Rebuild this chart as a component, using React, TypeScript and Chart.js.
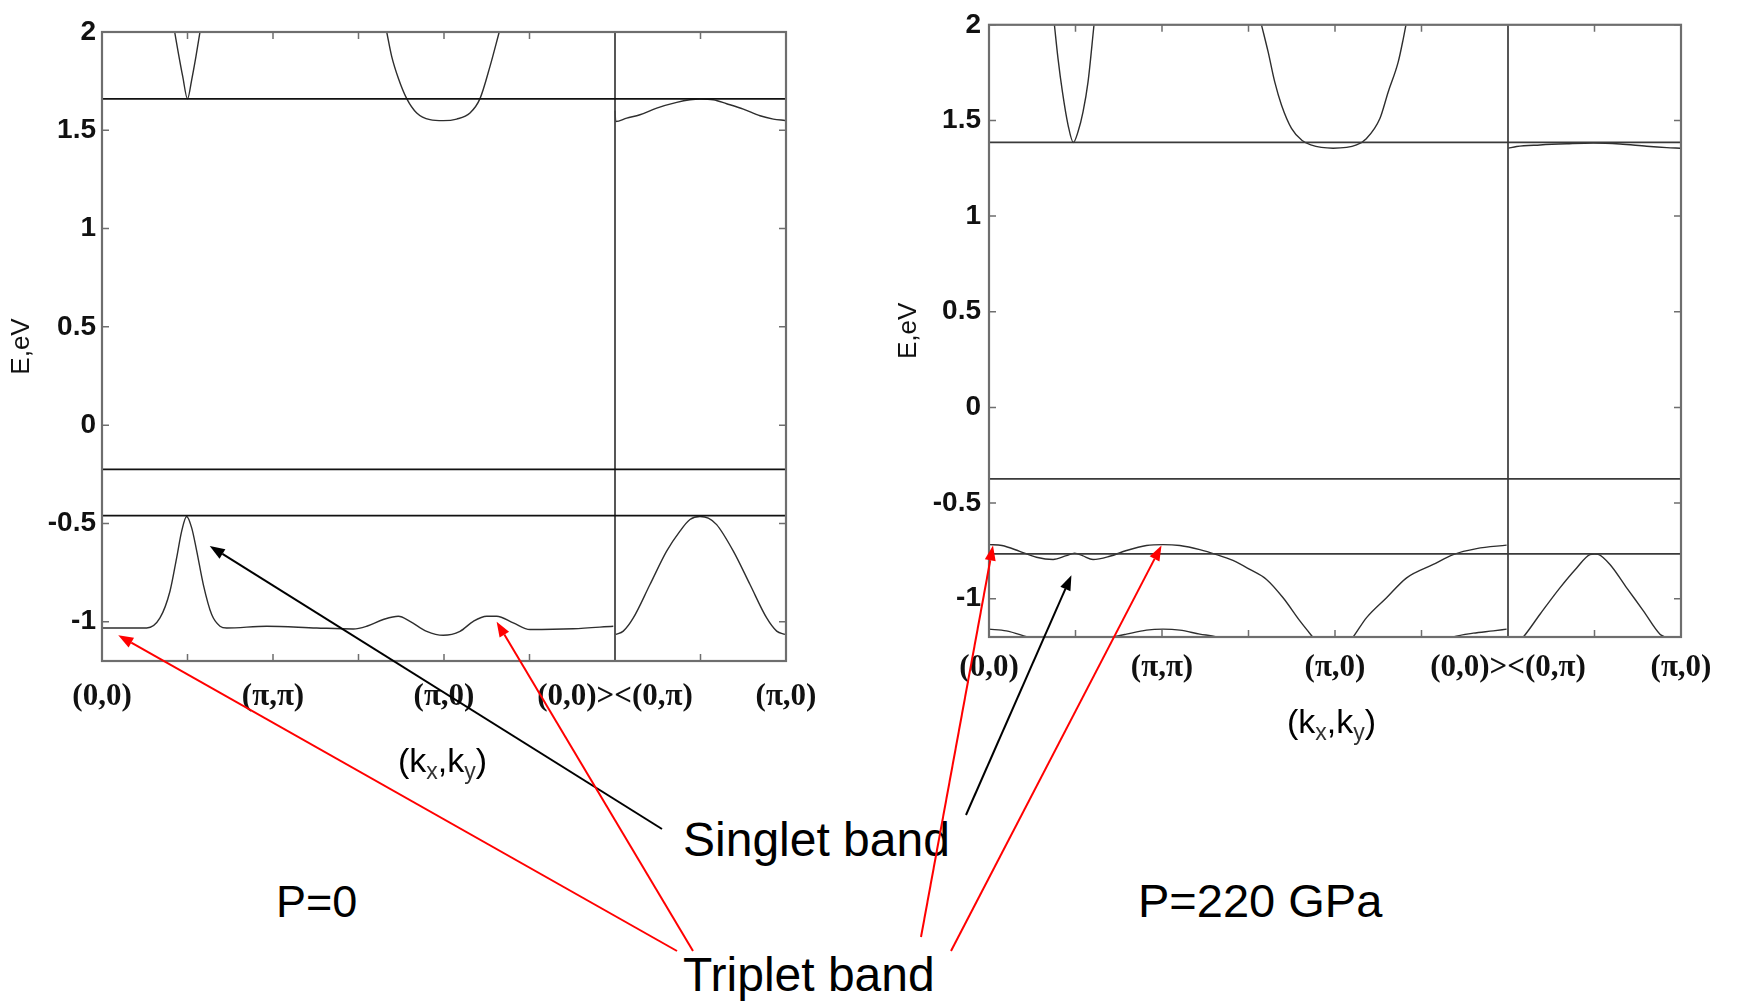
import { useEffect, useRef } from "react";
import { Chart, registerables } from "chart.js";

Chart.register(...registerables);

type Pt = [number, number];

// Path through the Brillouin zone, in equal segments: 0..6 is (0,0)->(π,π)->(π,0)->(0,0), 6..8 is (0,π)->(π,0)
const K_MIN = 0;
const K_MAX = 8;
const K_JUNCTION = 6;
const K_TICK_POS = [0, 2, 4, 6, 8];
const K_TICK_LABELS = ["(0,0)", "(π,π)", "(π,0)", "(0,0)><(0,π)", "(π,0)"];
const K_MINOR_TICKS = [1, 2, 3, 4, 5, 7];

const E_MIN = -1.2;
const E_MAX = 2;
const E_TICKS = [2, 1.5, 1, 0.5, 0, -0.5, -1];

// ---- P = 0 ----
const P0_LEVELS = [1.66, -0.225, -0.46];
const P0_UPPER_A: Pt[] = [
  [0.85, 2.0], [0.893, 1.893], [0.944, 1.774], [1.0, 1.66], [1.049, 1.757], [1.099, 1.876], [1.146, 2.0],
];
const P0_UPPER_B: Pt[] = [
  [3.33, 2.0], [3.388, 1.876], [3.465, 1.766], [3.564, 1.661], [3.681, 1.588], [3.836, 1.554],
  [3.992, 1.549], [4.148, 1.557], [4.304, 1.588], [4.421, 1.661], [4.538, 1.825], [4.646, 2.0],
];
const P0_UPPER_C: Pt[] = [
  [6.0, 1.6], [6.008, 1.545], [6.137, 1.562], [6.292, 1.579], [6.488, 1.613], [6.722, 1.642],
  [6.877, 1.655], [6.994, 1.659], [7.15, 1.655], [7.306, 1.635], [7.501, 1.608], [7.696, 1.574],
  [7.852, 1.557], [7.988, 1.55],
];
const P0_LOWER_A: Pt[] = [
  [0.0, -1.032], [0.523, -1.032], [0.678, -0.981], [0.795, -0.845], [0.873, -0.675], [0.932, -0.539],
  [0.99, -0.465], [1.049, -0.523], [1.108, -0.641], [1.185, -0.811], [1.283, -0.964], [1.38, -1.023],
  [1.458, -1.032], [1.926, -1.023], [2.511, -1.032], [2.94, -1.037], [3.096, -1.023], [3.29, -0.989],
  [3.466, -0.972], [3.602, -0.998], [3.798, -1.049], [3.992, -1.069], [4.187, -1.049], [4.343, -0.998],
  [4.5, -0.972], [4.616, -0.972], [4.81, -1.006], [5.006, -1.04], [5.51, -1.036], [5.98, -1.023],
];
const P0_LOWER_B: Pt[] = [
  [6.008, -1.065], [6.097, -1.048], [6.214, -0.981], [6.409, -0.811], [6.604, -0.641], [6.76, -0.539],
  [6.877, -0.48], [6.994, -0.465], [7.091, -0.473], [7.189, -0.506], [7.384, -0.641], [7.579, -0.811],
  [7.774, -0.981], [7.891, -1.048], [7.988, -1.065],
];

// ---- P = 220 GPa ----
const P220_LEVELS = [1.385, -0.373, -0.766];
const P220_UPPER_A: Pt[] = [
  [0.756, 2.0], [0.798, 1.823], [0.849, 1.649], [0.914, 1.476], [0.975, 1.385], [1.029, 1.441],
  [1.087, 1.545], [1.145, 1.702], [1.214, 2.0],
];
const P220_UPPER_B: Pt[] = [
  [3.15, 2.0], [3.227, 1.858], [3.304, 1.7], [3.382, 1.58], [3.497, 1.459], [3.62, 1.395],
  [3.72, 1.372], [3.979, 1.355], [4.249, 1.372], [4.365, 1.406], [4.519, 1.51], [4.615, 1.649],
  [4.731, 1.806], [4.789, 1.927], [4.82, 2.0],
];
const P220_UPPER_C: Pt[] = [
  [6.003, 1.355], [6.1, 1.364], [6.37, 1.372], [6.678, 1.378], [6.986, 1.382], [7.295, 1.377],
  [7.603, 1.365], [7.835, 1.358], [7.99, 1.355],
];
const P220_LOWER_A: Pt[] = [
  [0.0, -0.717], [0.15, -0.722], [0.355, -0.752], [0.548, -0.783], [0.741, -0.795], [0.895, -0.775],
  [0.99, -0.762], [1.08, -0.775], [1.203, -0.795], [1.396, -0.778], [1.589, -0.748], [1.82, -0.722],
  [2.012, -0.717], [2.206, -0.722], [2.437, -0.743], [2.63, -0.769], [2.82, -0.8], [3.015, -0.847],
  [3.208, -0.899], [3.4, -0.995], [3.594, -1.116], [3.748, -1.203], [3.98, -1.33], [4.21, -1.2],
  [4.365, -1.099], [4.596, -0.995], [4.828, -0.891], [5.136, -0.821], [5.367, -0.769], [5.637, -0.738],
  [5.984, -0.72],
];
const P220_LOWER_B: Pt[] = [
  [0.0, -1.159], [0.2, -1.168], [0.432, -1.198], [0.9, -1.26], [1.434, -1.2], [1.589, -1.185],
  [1.82, -1.164], [2.012, -1.159], [2.206, -1.164], [2.437, -1.185], [2.63, -1.2], [4.0, -1.45],
  [5.367, -1.2], [5.598, -1.18], [5.83, -1.168], [5.984, -1.159],
];
const P220_LOWER_C: Pt[] = [
  [6.0, -1.28], [6.177, -1.2], [6.37, -1.081], [6.6, -0.943], [6.794, -0.839], [6.947, -0.769],
  [7.0, -0.766], [7.043, -0.768], [7.179, -0.821], [7.372, -0.943], [7.565, -1.063], [7.757, -1.185],
  [7.815, -1.2], [8.0, -1.28],
];

// Arrow targets in (k, E) of each panel
const P0_SINGLET_TIP: Pt = [1.26, -0.615];
const P0_TRIPLET_TIPS: Pt[] = [[0.19, -1.069], [4.616, -1.0]];
const P220_SINGLET_TIP: Pt = [0.953, -0.877];
const P220_TRIPLET_TIPS: Pt[] = [[0.046, -0.722], [1.994, -0.722]];

const SANS = '"Liberation Sans", Arial, Helvetica, sans-serif';
const SERIF = '"Liberation Serif", "Times New Roman", Times, serif';

interface PanelSpec {
  left: number;
  width: number;
  height: number;
  padTop: number;
  padRight: number;
  yAxisWidth: number;
  xAxisHeight: number;
  xLabelPad: number;
  yLabelPad: number;
  titlePad: number;
  levels: number[];
  levelColor: string;
  curves: Pt[][];
}

const framePlugin = {
  id: "frame",
  afterDatasetsDraw(chart: any) {
    const { ctx, chartArea: a, scales } = chart;
    ctx.save();
    ctx.strokeStyle = "#6e6e6e";
    ctx.lineWidth = 2.2;
    ctx.strokeRect(a.left, a.top, a.right - a.left, a.bottom - a.top);
    ctx.lineWidth = 1.5;
    ctx.beginPath();
    for (const k of K_MINOR_TICKS) {
      const x = scales.x.getPixelForValue(k);
      ctx.moveTo(x, a.bottom);
      ctx.lineTo(x, a.bottom - 7);
      ctx.moveTo(x, a.top);
      ctx.lineTo(x, a.top + 7);
    }
    for (const e of E_TICKS) {
      const y = scales.y.getPixelForValue(e);
      ctx.moveTo(a.left, y);
      ctx.lineTo(a.left + 7, y);
      ctx.moveTo(a.right, y);
      ctx.lineTo(a.right - 7, y);
    }
    ctx.stroke();
    ctx.restore();
  },
};

function buildConfig(p: PanelSpec): any {
  const curveSets = p.curves.map((c) => ({
    data: c.map(([x, y]) => ({ x, y })),
    borderColor: "#2e2e2e",
    borderWidth: 1.4,
    pointRadius: 0,
    cubicInterpolationMode: "monotone",
    fill: false,
  }));
  const levelSets = p.levels.map((e) => ({
    data: [{ x: K_MIN, y: e }, { x: K_MAX, y: e }],
    borderColor: p.levelColor,
    borderWidth: 1.8,
    pointRadius: 0,
    tension: 0,
    fill: false,
  }));
  const divider = {
    data: [{ x: K_JUNCTION, y: E_MIN }, { x: K_JUNCTION, y: E_MAX }],
    borderColor: "#444",
    borderWidth: 1.8,
    pointRadius: 0,
    tension: 0,
    fill: false,
  };
  return {
    type: "line",
    data: { datasets: [...levelSets, divider, ...curveSets] },
    plugins: [framePlugin],
    options: {
      animation: false,
      responsive: false,
      events: [],
      layout: { padding: { top: p.padTop, right: p.padRight, left: 0, bottom: 0 } },
      plugins: { legend: { display: false }, tooltip: { enabled: false } },
      scales: {
        x: {
          type: "linear",
          min: K_MIN,
          max: K_MAX,
          afterBuildTicks: (s: any) => {
            s.ticks = K_TICK_POS.map((v) => ({ value: v }));
          },
          afterFit: (s: any) => {
            s.height = p.xAxisHeight;
          },
          grid: { display: false, drawTicks: false },
          border: { display: false },
          ticks: {
            autoSkip: false,
            maxRotation: 0,
            minRotation: 0,
            padding: p.xLabelPad,
            color: "#111",
            font: { family: SERIF, size: 31, weight: "bold" },
            callback: (_v: any, i: number) => K_TICK_LABELS[i],
          },
        },
        y: {
          type: "linear",
          min: E_MIN,
          max: E_MAX,
          afterBuildTicks: (s: any) => {
            s.ticks = E_TICKS.map((v) => ({ value: v }));
          },
          afterFit: (s: any) => {
            s.width = p.yAxisWidth;
          },
          grid: { display: false, drawTicks: false },
          border: { display: false },
          ticks: {
            padding: p.yLabelPad,
            color: "#111",
            font: { family: SANS, size: 28, weight: "bold" },
            callback: (v: any) => String(v),
          },
          title: {
            display: true,
            text: "E,eV",
            color: "#111",
            font: { family: SANS, size: 26 },
            padding: { top: p.titlePad, bottom: 0 },
          },
        },
      },
    },
  };
}

const LEFT_PANEL: PanelSpec = {
  left: 0,
  width: 880,
  height: 760,
  padTop: 32,
  padRight: 94,
  yAxisWidth: 102,
  xAxisHeight: 99,
  xLabelPad: 17,
  yLabelPad: 6,
  titlePad: 6,
  levels: P0_LEVELS,
  levelColor: "#111",
  curves: [P0_UPPER_A, P0_UPPER_B, P0_UPPER_C, P0_LOWER_A, P0_LOWER_B],
};

const RIGHT_PANEL: PanelSpec = {
  left: 880,
  width: 858,
  height: 760,
  padTop: 23,
  padRight: 57,
  yAxisWidth: 109,
  xAxisHeight: 123,
  xLabelPad: 12,
  yLabelPad: 8,
  titlePad: 13,
  levels: P220_LEVELS,
  levelColor: "#3a3a3a",
  curves: [P220_UPPER_A, P220_UPPER_B, P220_UPPER_C, P220_LOWER_A, P220_LOWER_B, P220_LOWER_C],
};

const PAGE_W = 1738;
const PAGE_H = 1001;

function drawArrow(ctx: CanvasRenderingContext2D, x0: number, y0: number, x1: number, y1: number, color: string) {
  const ang = Math.atan2(y1 - y0, x1 - x0);
  const L = 15;
  const W = 5.5;
  const bx = x1 - L * Math.cos(ang);
  const by = y1 - L * Math.sin(ang);
  ctx.strokeStyle = color;
  ctx.fillStyle = color;
  ctx.lineWidth = 2;
  ctx.beginPath();
  ctx.moveTo(x0, y0);
  ctx.lineTo(bx, by);
  ctx.stroke();
  ctx.beginPath();
  ctx.moveTo(x1, y1);
  ctx.lineTo(bx + W * Math.sin(ang), by - W * Math.cos(ang));
  ctx.lineTo(bx - W * Math.sin(ang), by + W * Math.cos(ang));
  ctx.closePath();
  ctx.fill();
}

const textStyle = (left: number, top: number, size: number): React.CSSProperties => ({
  position: "absolute",
  left,
  top,
  fontFamily: SANS,
  fontSize: size,
  lineHeight: 1,
  whiteSpace: "nowrap",
  color: "#000",
});

const subStyle: React.CSSProperties = { fontSize: 23, verticalAlign: "-7px", lineHeight: 0, color: "#333" };

export default function App() {
  const leftRef = useRef<HTMLCanvasElement>(null);
  const rightRef = useRef<HTMLCanvasElement>(null);
  const overlayRef = useRef<HTMLCanvasElement>(null);

  useEffect(() => {
    const charts: Chart[] = [];
    if (!leftRef.current || !rightRef.current || !overlayRef.current) return;
    const left = new Chart(leftRef.current, buildConfig(LEFT_PANEL));
    const right = new Chart(rightRef.current, buildConfig(RIGHT_PANEL));
    charts.push(left, right);

    const at = (chart: any, panel: PanelSpec, [k, e]: Pt): [number, number] => [
      panel.left + chart.scales.x.getPixelForValue(k),
      chart.scales.y.getPixelForValue(e),
    ];

    const ctx = overlayRef.current.getContext("2d")!;
    ctx.clearRect(0, 0, PAGE_W, PAGE_H);

    // captions -> bands
    const s0 = at(left, LEFT_PANEL, P0_SINGLET_TIP);
    drawArrow(ctx, 662, 829, s0[0], s0[1], "#000");
    const s1 = at(right, RIGHT_PANEL, P220_SINGLET_TIP);
    drawArrow(ctx, 966, 815, s1[0], s1[1], "#000");

    const t0a = at(left, LEFT_PANEL, P0_TRIPLET_TIPS[0]);
    drawArrow(ctx, 677, 951, t0a[0], t0a[1], "#f00");
    const t0b = at(left, LEFT_PANEL, P0_TRIPLET_TIPS[1]);
    drawArrow(ctx, 693, 951, t0b[0], t0b[1], "#f00");
    const t1a = at(right, RIGHT_PANEL, P220_TRIPLET_TIPS[0]);
    drawArrow(ctx, 921, 937, t1a[0], t1a[1], "#f00");
    const t1b = at(right, RIGHT_PANEL, P220_TRIPLET_TIPS[1]);
    drawArrow(ctx, 951, 951, t1b[0], t1b[1], "#f00");

    return () => {
      charts.forEach((c) => c.destroy());
    };
  }, []);

  return (
    <div
      style={{
        position: "absolute",
        left: 0,
        top: 0,
        width: PAGE_W,
        height: PAGE_H,
        overflow: "hidden",
        background: "#fff",
      }}
    >
      <canvas
        ref={leftRef}
        width={LEFT_PANEL.width}
        height={LEFT_PANEL.height}
        style={{ position: "absolute", left: LEFT_PANEL.left, top: 0 }}
      />
      <canvas
        ref={rightRef}
        width={RIGHT_PANEL.width}
        height={RIGHT_PANEL.height}
        style={{ position: "absolute", left: RIGHT_PANEL.left, top: 0 }}
      />

      <div style={textStyle(398, 743, 34)}>
        (k<sub style={subStyle}>x</sub>,k<sub style={subStyle}>y</sub>)
      </div>
      <div style={textStyle(1287, 704, 34)}>
        (k<sub style={subStyle}>x</sub>,k<sub style={subStyle}>y</sub>)
      </div>
      <div style={textStyle(683, 816, 48)}>Singlet band</div>
      <div style={textStyle(683, 951, 48)}>Triplet band</div>
      <div style={textStyle(276, 879, 45)}>P=0</div>
      <div style={textStyle(1138, 877, 47)}>P=220 GPa</div>

      <canvas
        ref={overlayRef}
        width={PAGE_W}
        height={PAGE_H}
        style={{ position: "absolute", left: 0, top: 0, pointerEvents: "none" }}
      />
    </div>
  );
}
